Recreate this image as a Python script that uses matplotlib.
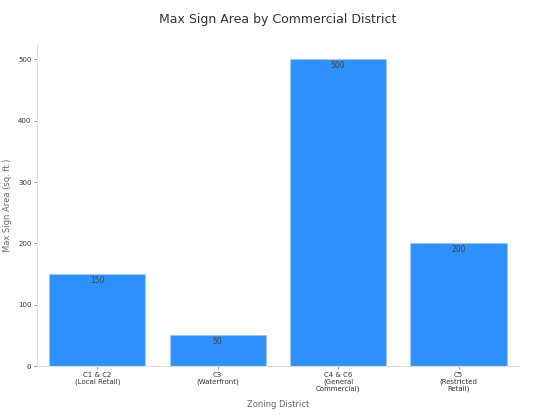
import numpy as np
import matplotlib.pyplot as plt

districts = ['C1 & C2\n(Local Retail)', 'C3\n(Waterfront)',
             'C4 & C6\n(General\nCommercial)', 'C5\n(Restricted\nRetail)']
max_area = [150, 50, 500, 200]

fig, ax = plt.subplots(figsize=(5.53, 4.15), dpi=100)
fig.subplots_adjust(left=0.067, right=0.938, top=0.894, bottom=0.118)

x = np.arange(len(districts))
bars = ax.bar(x, max_area, width=0.8, color='#2E90FA',
              edgecolor='#9CC8F5', linewidth=0.8)

for b, v in zip(bars, max_area):
    ax.text(b.get_x() + b.get_width() / 2, v - 3, str(v),
            ha='center', va='top', fontsize=5.5, color='#444444')

ax.set_xlim(-0.5, 3.5)
ax.set_ylim(0, 525)
ax.set_yticks([0, 100, 200, 300, 400, 500])
ax.set_xticks(x)
ax.set_xticklabels(districts, fontsize=5, color='#333333', linespacing=1.15)
ax.tick_params(axis='y', labelsize=5, labelcolor='#333333')
ax.tick_params(length=2.5, color='#888888', width=0.6, pad=1.5)

for s in ['top', 'right']:
    ax.spines[s].set_visible(False)
for s in ['left', 'bottom']:
    ax.spines[s].set_color('#DDDDDD')
    ax.spines[s].set_linewidth(0.8)

ax.set_xlabel('Zoning District', fontsize=6, color='#666666', labelpad=6)
ax.set_ylabel('Max Sign Area (sq. ft.)', fontsize=6, color='#666666',
              labelpad=4)
ax.set_title('Max Sign Area by Commercial District', fontsize=9,
             color='#333333', pad=15)

plt.savefig('out.png', dpi=100)
